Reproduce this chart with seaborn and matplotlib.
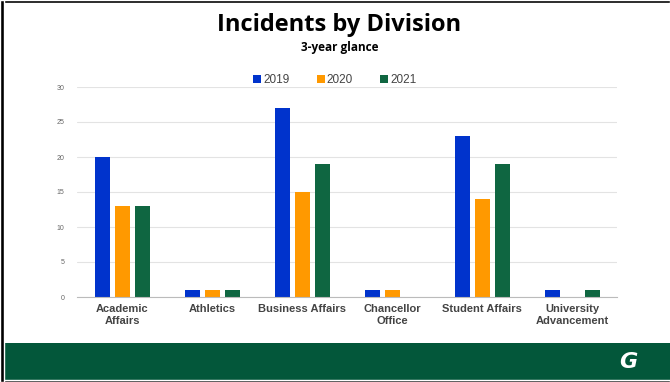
import matplotlib
matplotlib.use("Agg")
import matplotlib.pyplot as plt
import seaborn as sns
import pandas as pd
from matplotlib.patches import Rectangle

categories = ["Academic\nAffairs", "Athletics", "Business Affairs", "Chancellor\nOffice",
              "Student Affairs", "University\nAdvancement"]
years = ["2019", "2020", "2021"]
v2019 = [20, 1, 27, 1, 23, 1]
v2020 = [13, 1, 15, 1, 14, 0]
v2021 = [13, 1, 19, 0, 19, 1]
yticks = [0, 5, 10, 15, 20, 25, 30]
colors = ["#0033CC", "#FF9900", "#0F6641"]

rows = []
for yr, vals in zip(years, [v2019, v2020, v2021]):
    for c, v in zip(categories, vals):
        rows.append({"Division": c, "Year": yr, "Incidents": v})
df = pd.DataFrame(rows)

sns.set_style("white")
W, H = 670, 382
fig = plt.figure(figsize=(W / 100, H / 100), dpi=100)

# frame and footer
fig.patches.append(Rectangle((0, 0), 1, 1, transform=fig.transFigure, facecolor="white",
                             edgecolor="none", zorder=-10))
fig.patches.append(Rectangle((0, 0), 1, 2 / H, transform=fig.transFigure, facecolor="black", zorder=5))
fig.patches.append(Rectangle((0, 1 - 3 / H), 1, 3 / H, transform=fig.transFigure, facecolor="black", zorder=5))
fig.patches.append(Rectangle((0, 0), 4 / W, 1, transform=fig.transFigure, facecolor="black", zorder=5))
fig.patches.append(Rectangle((4 / W, 2 / H), 1, 37 / H, transform=fig.transFigure,
                             facecolor="#03573A", edgecolor="none", zorder=4))
fig.text(628 / W, 1 - 362 / H, "G", color="white", fontsize=16, fontweight="bold",
         fontstyle="italic", family="Liberation Sans Narrow", ha="center", va="center", zorder=6)

fig.text(339 / W, 1 - 25 / H, "Incidents by Division", fontsize=17, fontweight="bold",
         family="Open Sans", ha="center", va="center", color="black")
fig.text(340 / W, 1 - 47 / H, "3-year glance", fontsize=8.5, fontweight="bold",
         family="Open Sans", ha="center", va="center", color="black")

ax = fig.add_axes([77 / W, 1 - 297 / H, 540 / W, 210 / H])
sns.barplot(data=df, x="Division", y="Incidents", hue="Year", palette=colors,
            order=categories, hue_order=years, width=2 / 3, gap=0.25, ax=ax,
            saturation=1, edgecolor="none", legend=True)
ax.set_ylim(0, 30)
ax.set_xlim(-0.5, 5.5)
ax.set_yticks(yticks)
ax.set_yticklabels([str(t) for t in yticks], fontsize=5, color="#666666", family="Liberation Sans")
ax.tick_params(axis="y", length=0, pad=9)
ax.tick_params(axis="x", length=0, pad=5)
for lab in ax.get_xticklabels():
    lab.set_fontsize(8)
    lab.set_color("#444444")
    lab.set_family("Liberation Sans")
    lab.set_fontweight("bold")
ax.grid(axis="y", color="#E3E3E3", linewidth=0.8)
ax.set_axisbelow(True)
for s in ["top", "right", "left"]:
    ax.spines[s].set_visible(False)
ax.spines["bottom"].set_color("#BBBBBB")
ax.spines["bottom"].set_linewidth(0.8)
ax.set_xlabel("")
ax.set_ylabel("")

leg = ax.legend(loc="center", bbox_to_anchor=(258 / 540, 1 + 7 / 210), ncol=3, frameon=False,
                fontsize=8.5, handlelength=0.65, handleheight=0.65, handletextpad=0.2,
                columnspacing=2.3, borderaxespad=0)
for t in leg.get_texts():
    t.set_color("#444444")
    t.set_family("Liberation Sans")

fig.savefig("out.png", dpi=100)
